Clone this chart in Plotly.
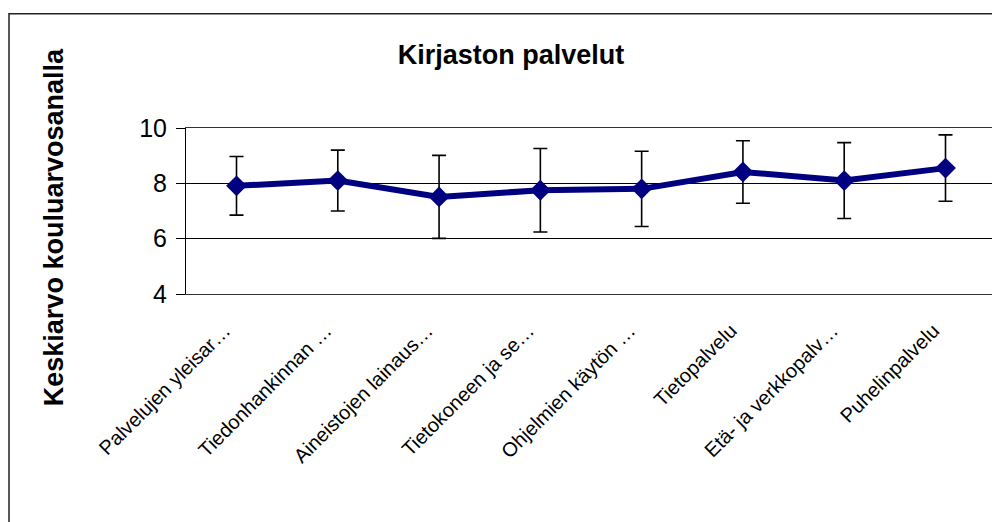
import plotly.graph_objects as go

categories = [
    "Palvelujen yleisar…",
    "Tiedonhankinnan …",
    "Aineistojen lainaus…",
    "Tietokoneen ja se…",
    "Ohjelmien käytön …",
    "Tietopalvelu",
    "Etä- ja verkkopalv…",
    "Puhelinpalvelu",
]
means = [7.91, 8.10, 7.51, 7.75, 7.80, 8.41, 8.10, 8.55]
errors = [1.06, 1.10, 1.50, 1.51, 1.36, 1.13, 1.37, 1.20]
y_ticks = [4, 6, 8, 10]

FONT = "Liberation Sans, Arial, sans-serif"
OFF = 8  # page body margin
W, H = 1000 - OFF, 522 - OFF
# target page pixel positions of the plot area
PL, PR, PT, PB = 186, 996, 128.3, 294.3
ML, MR, MT, MB = PL - OFF, W - (PR - OFF), PT - OFF, H - (PB - OFF)
PW, PH = W - ML - MR, H - MT - MB

def px_x(p):
    return (p - OFF - ML) / PW

def px_y(p):
    return (H - MB - (p - OFF)) / PH

fig = go.Figure()

# error bars underneath
fig.add_trace(go.Scatter(
    x=categories, y=means, mode="markers",
    marker=dict(size=1, color="rgba(0,0,0,0)"),
    error_y=dict(type="data", array=errors, visible=True,
                 color="black", thickness=1.6, width=7),
    showlegend=False, hoverinfo="skip",
))
# line with diamond markers
fig.add_trace(go.Scatter(
    x=categories, y=means, mode="lines+markers",
    line=dict(color="#000080", width=6),
    marker=dict(symbol="diamond", size=16, color="#000080"),
    showlegend=False,
))

fig.update_layout(
    width=W, height=H,
    margin=dict(l=ML, r=MR, t=MT, b=MB, pad=0),
    paper_bgcolor="white", plot_bgcolor="white",
    font=dict(family=FONT, color="black"),
    title=dict(text="<b>Kirjaston palvelut</b>", x=(511 - OFF) / W, xanchor="center",
               y=1 - (55 - OFF) / H, yanchor="middle", xref="container", yref="container",
               font=dict(size=27, family=FONT, color="black")),
    xaxis=dict(
        type="category", showgrid=False, zeroline=False,
        tickangle=-45, tickfont=dict(size=20, family=FONT, color="black"),
        showline=True, linecolor="#333", linewidth=1, mirror=True,
        ticks="", ticklabelstandoff=16, ticklabelshift=-12,
    ),
    yaxis=dict(
        range=[4, 10], tickvals=y_ticks, ticktext=[str(v) for v in y_ticks],
        showgrid=True, gridcolor="black", gridwidth=1, zeroline=False,
        showline=True, linecolor="black", linewidth=1, mirror=True,
        ticks="outside", ticklen=9, tickcolor="black",
        tickfont=dict(size=25, family=FONT, color="black"),
        ticklabelstandoff=4,
    ),
    annotations=[dict(
        text="<b>Keskiarvo kouluarvosanalla</b>", textangle=-90,
        xref="paper", yref="paper", x=px_x(54), y=px_y(227.5),
        xanchor="center", yanchor="middle", showarrow=False,
        font=dict(size=27, family=FONT, color="black"),
    )],
    shapes=[dict(
        type="rect", xref="paper", yref="paper",
        x0=px_x(9), x1=px_x(1010), y0=px_y(540), y1=px_y(14),
        line=dict(color="#222", width=1.5), fillcolor="rgba(0,0,0,0)",
        layer="above",
    )],
)

fig.write_html("out.html")
